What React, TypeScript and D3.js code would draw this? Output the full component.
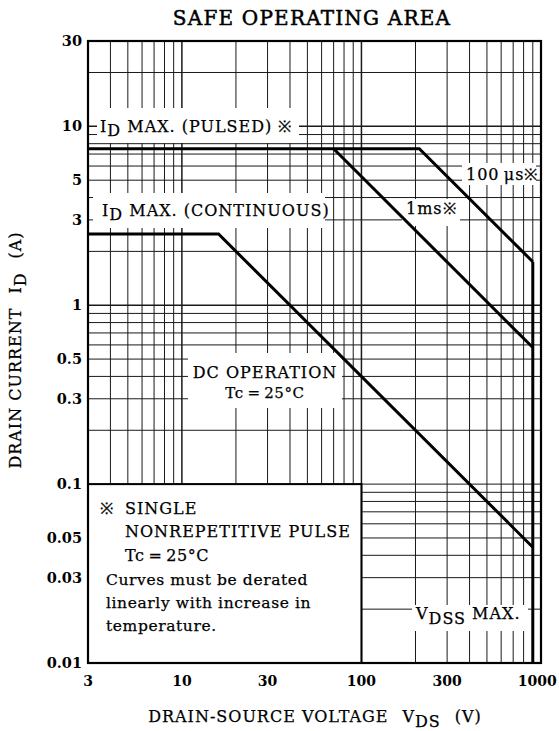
import React, { useEffect, useRef } from "react";
import { select, scaleLog, line } from "d3";

// axis ticks
const xTickValues = [3, 10, 30, 100, 300, 1000];
const yTickValues = [0.01, 0.03, 0.05, 0.1, 0.3, 0.5, 1, 3, 5, 10, 30];

// grid lines
const xGridValues = [4, 5, 6, 7, 8, 9, 10, 20, 30, 40, 50, 60, 70, 80, 90, 100, 200, 300, 400, 500, 600, 700, 800, 900];
const yGridValues = [0.02, 0.03, 0.04, 0.05, 0.06, 0.07, 0.08, 0.09, 0.1, 0.2, 0.3, 0.4, 0.5, 0.6, 0.7, 0.8, 0.9, 1, 2, 3, 4, 5, 6, 7, 8, 9, 10, 20];

// SOA limits [V, A]
const pulsedLimit: [number, number][] = [[3, 7.5], [210, 7.5], [900, 1.75]];
const ms1Limit: [number, number][] = [[70, 7.5], [900, 0.58]];
const dcLimit: [number, number][] = [[3, 2.5], [16, 2.5], [900, 0.0444]];
const vdssLimit: [number, number][] = [[900, 1.75], [900, 0.01]];

const legendLines = ["Curves must be derated", "linearly with increase in", "temperature."];

const FONT = "'DejaVu Serif', serif";

function SoaChart() {
    const svgRef = useRef<SVGSVGElement>(null);

    useEffect(() => {
        const svg = select(svgRef.current);
        svg.selectAll("*").remove();

        const left = 88, right = 541, top = 41, bottom = 663;
        const x = scaleLog().domain([3, 1000]).range([left, right]);
        const y = scaleLog().domain([0.01, 30]).range([bottom, top]);
        const isMajor = (d: number) => [10, 100, 1].includes(d);

        // grid
        svg.append("g")
            .selectAll("line")
            .data(xGridValues)
            .join("line")
            .attr("x1", d => x(d)).attr("x2", d => x(d))
            .attr("y1", top).attr("y2", bottom)
            .attr("stroke", "#1a1a1a")
            .attr("stroke-width", d => isMajor(d) ? 1.5 : 1);

        svg.append("g")
            .selectAll("line")
            .data(yGridValues)
            .join("line")
            .attr("x1", left).attr("x2", right)
            .attr("y1", d => y(d)).attr("y2", d => y(d))
            .attr("stroke", "#1a1a1a")
            .attr("stroke-width", d => isMajor(d) ? 1.5 : 1);

        // white label boxes over the grid
        const boxes = [
            [97, 108, 299, 143],   // pulsed
            [93, 193, 325, 228],   // continuous
            [462, 163, 536, 185],  // 100us
            [402, 199, 460, 226],  // 1ms
            [188, 353, 342, 408],  // DC operation
            [412, 605, 528, 631],  // VDSS
        ];
        svg.append("g")
            .selectAll("rect")
            .data(boxes)
            .join("rect")
            .attr("x", d => d[0]).attr("y", d => d[1])
            .attr("width", d => d[2] - d[0]).attr("height", d => d[3] - d[1])
            .attr("fill", "#fff");

        // legend box (bottom-left, 3..100 V, 0.01..0.1 A)
        svg.append("rect")
            .attr("x", x(3)).attr("y", y(0.1))
            .attr("width", x(100) - x(3)).attr("height", y(0.01) - y(0.1))
            .attr("fill", "#fff").attr("stroke", "#000").attr("stroke-width", 2);

        // frame
        svg.append("rect")
            .attr("x", left).attr("y", top)
            .attr("width", right - left).attr("height", bottom - top)
            .attr("fill", "none").attr("stroke", "#000").attr("stroke-width", 2.2);

        // curves
        const lineGen = line<[number, number]>().x(d => x(d[0])).y(d => y(d[1]));
        svg.append("g")
            .selectAll("path")
            .data([pulsedLimit, ms1Limit, dcLimit, vdssLimit])
            .join("path")
            .attr("d", lineGen)
            .attr("fill", "none")
            .attr("stroke", "#000")
            .attr("stroke-width", 3)
            .attr("stroke-linejoin", "miter");

        // tick labels
        svg.append("g")
            .selectAll("text")
            .data(yTickValues)
            .join("text")
            .attr("x", 82).attr("y", d => y(d) + 5)
            .attr("text-anchor", "end")
            .attr("font-family", FONT).attr("font-size", 14.5).attr("font-weight", "bold")
            .text(d => String(d));

        svg.append("g")
            .selectAll("text")
            .data(xTickValues)
            .join("text")
            .attr("x", d => x(d)).attr("y", 686)
            .attr("text-anchor", "middle")
            .attr("font-family", FONT).attr("font-size", 14).attr("font-weight", "bold")
            .text(d => String(d))
            .each(function () {
                // keep the last label inside the page
                const el = this as SVGTextElement;
                const b = el.getBBox();
                if (b.x + b.width > 557) {
                    el.setAttribute("x", String(+el.getAttribute("x")! - (b.x + b.width - 557)));
                }
            });

        const txt = (px: number, py: number, size = 16, anchor = "start") =>
            svg.append("text")
                .attr("x", px).attr("y", py)
                .attr("text-anchor", anchor)
                .attr("font-family", FONT).attr("font-size", size)
                .attr("letter-spacing", 1)
                .attr("fill", "#000")
                .attr("stroke", "#000").attr("stroke-width", 0.25);

        // subscript helper: main, sub, rest
        const withSub = (t: any, main: string, sub: string, rest: string, shift = 4) => {
            t.append("tspan").text(main);
            t.append("tspan").attr("dy", shift).text(sub);
            t.append("tspan").attr("dy", -shift).text(rest);
            return t;
        };

        // title
        txt(312, 25, 20, "middle").attr("letter-spacing", 1.2).attr("stroke-width", 0.5)
            .text("SAFE OPERATING AREA");

        // in-plot labels
        withSub(txt(100, 132), "I", "D", " MAX. (PULSED) ※");
        withSub(txt(102, 216), "I", "D", " MAX. (CONTINUOUS)");
        txt(466, 180, 16).text("100\u2009μs※");
        txt(406, 214, 16).text("1ms※");
        txt(265, 378, 16, "middle").text("DC OPERATION");
        txt(265, 398, 15, "middle").attr("letter-spacing", 0.6).text("Tc\u2009=\u200925°C");
        withSub(txt(416, 619), "V", "DSS", " MAX.", 5);

        // legend text
        txt(100, 514).text("※");
        txt(125, 514).text("SINGLE");
        txt(125, 537).text("NONREPETITIVE PULSE");
        txt(125, 561).attr("letter-spacing", 0.6).text("Tc\u2009=\u200925°C");
        legendLines.forEach((s, i) => txt(106, 585 + i * 23, 15.5).attr("letter-spacing", 0.6).text(s));

        // axis titles
        const xt = txt(315, 722, 16, "middle");
        xt.append("tspan").text("DRAIN-SOURCE VOLTAGE");
        xt.append("tspan").attr("dx", 14).text("V");
        xt.append("tspan").attr("dy", 5).text("DS");
        xt.append("tspan").attr("dy", -5).attr("dx", 14).text("(V)");

        const yt = svg.append("text")
            .attr("transform", "translate(21, 350) rotate(-90)")
            .attr("text-anchor", "middle")
            .attr("font-family", FONT).attr("font-size", 16)
            .attr("stroke", "#000").attr("stroke-width", 0.25)
            .attr("letter-spacing", 1);
        yt.append("tspan").text("DRAIN CURRENT");
        yt.append("tspan").attr("dx", 14).text("I");
        yt.append("tspan").attr("dy", 5).text("D");
        yt.append("tspan").attr("dy", -5).attr("dx", 14).text("(A)");
    }, []);

    return (
        <svg ref={svgRef} width={559} height={731}
            style={{ position: "absolute", left: 0, top: 0, background: "#fff" }} />
    );
}

export default function App() {
    return <SoaChart />;
}
